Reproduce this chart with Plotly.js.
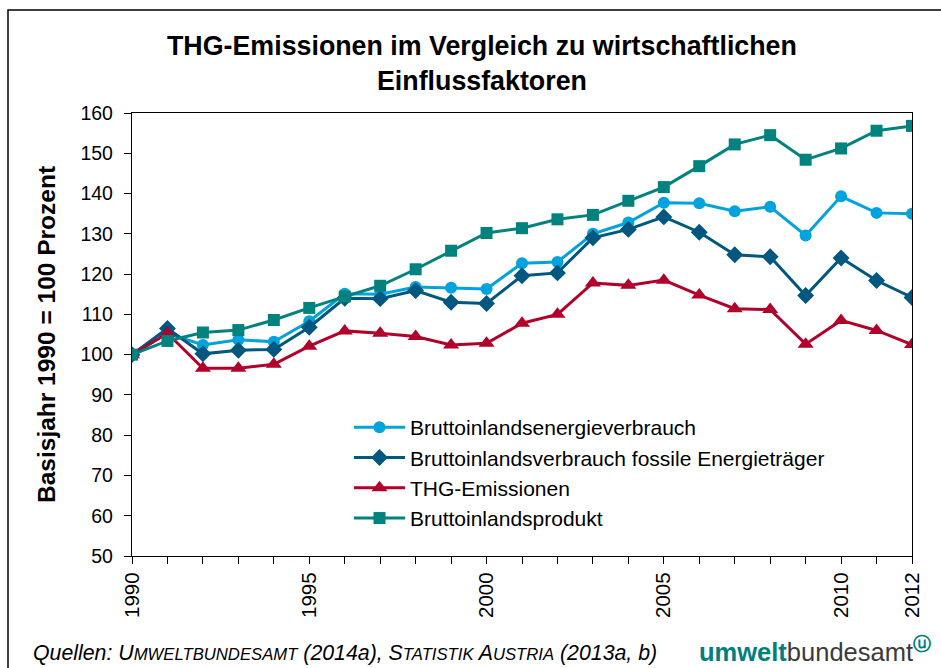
<!DOCTYPE html>
<html><head><meta charset="utf-8">
<script src="https://cdn.plot.ly/plotly-3.0.1.min.js"></script>
<style>html,body{margin:0;padding:0;background:#fff}#chart{width:941px;height:668px}</style>
</head><body><div id="chart"></div>
<script>
const years = [1990,1991,1992,1993,1994,1995,1996,1997,1998,1999,2000,2001,2002,2003,2004,2005,2006,2007,2008,2009,2010,2011,2012];
const energieverbrauch = [100,105.3,102.4,103.7,103.2,108.3,115.1,115.0,116.8,116.6,116.3,122.7,123.0,130.0,132.8,137.7,137.6,135.6,136.7,129.6,139.3,135.2,135.0];
const fossil = [100,106.5,100.2,101.1,101.3,106.8,114.0,113.9,115.9,113.0,112.7,119.6,120.3,129.0,131.1,134.2,130.4,124.8,124.3,114.7,124.0,118.4,114.2];
const thg = [100,105.3,96.6,96.6,97.6,102.1,105.9,105.3,104.5,102.4,102.8,107.8,110.0,117.8,117.2,118.5,114.8,111.4,111.2,102.6,108.5,106.0,102.5];
const bip = [100,103.4,105.5,106.1,108.6,111.6,114.4,117.1,121.2,125.8,130.2,131.4,133.6,134.7,138.2,141.6,146.8,152.2,154.5,148.4,151.2,155.6,156.8];
const seriesNames = ["Bruttoinlandsenergieverbrauch","Bruttoinlandsverbrauch fossile Energieträger","THG-Emissionen","Bruttoinlandsprodukt"];
const xTickYears = [1990,1995,2000,2005,2010,2012];
const xTickLabels = ["1990","1995","2000","2005","2010","2012"];

const F = '"Liberation Sans", Arial, sans-serif';
const L = 132, R = 29, T = 113, B = 112, W = 941, H = 668;
const pw = W - L - R, ph = H - T - B;
const px = v => (v - L) / pw;          // pixel x -> paper x
const py = v => (H - B - v) / ph;      // pixel y -> paper y

function tr(y, name, color, symbol, size){
  return {x: years, y: y, name: name, type:'scatter', mode:'lines+markers',
    line:{color:color, width:3}, marker:{color:color, symbol:symbol, size:size}};
}
const data = [
  tr(energieverbrauch, seriesNames[0], '#00A3DE', 'circle', 12),
  tr(fossil, seriesNames[1], '#00577F', 'diamond', 13),
  tr(thg, seriesNames[2], '#B2002B', 'triangle-up', 14),
  tr(bip, seriesNames[3], '#00837F', 'square', 12)
];
const layout = {
  width:W, height:H, paper_bgcolor:'#fff', plot_bgcolor:'#fff',
  margin:{l:L, r:R, t:T, b:B},
  font:{family:F, color:'#000', size:19},
  xaxis:{range:[1990,2012], tickvals:xTickYears, ticktext:xTickLabels, tickangle:-90, ticks:'outside', ticklen:7, tickcolor:'#000',
    minor:{dtick:1, ticks:'outside', ticklen:7, tickcolor:'#000', showgrid:false},
    showline:true, linecolor:'#000', linewidth:1.3, mirror:true, showgrid:false, zeroline:false, tickfont:{size:20.5}},
  yaxis:{range:[50,160], dtick:10, ticks:'outside', ticklen:7, tickcolor:'#000', showline:true, linecolor:'#000', linewidth:1.3, mirror:true,
    showgrid:false, zeroline:false, tickfont:{size:19.5}, ticklabelstandoff:7},
  legend:{x:px(349), y:py(407), xanchor:'left', yanchor:'top', bgcolor:'rgba(0,0,0,0)', font:{size:21}, tracegroupgap:0, itemwidth:51},
  shapes:[{type:'rect', xref:'paper', yref:'paper', x0:px(8), x1:px(950), y0:py(680), y1:py(10), line:{color:'#000', width:1.5}, layer:'below'}],
  annotations:[
    {xref:'paper', yref:'paper', x:px(482), y:py(29), xanchor:'center', yanchor:'top', showarrow:false,
     text:'<b>THG-Emissionen im Vergleich zu wirtschaftlichen<br>Einflussfaktoren</b>', font:{size:26.8}},
    {xref:'paper', yref:'paper', x:px(46), y:py(335), xanchor:'center', yanchor:'middle', showarrow:false, textangle:-90,
     text:'<b>Basisjahr 1990 = 100 Prozent</b>', font:{size:24.5}},
    {xref:'paper', yref:'paper', x:px(31), y:py(653), xanchor:'left', yanchor:'middle', showarrow:false,
     text:'<i>Quellen: U<span style="font-size:16.7px">MWELTBUNDESAMT</span> (2014a), S<span style="font-size:16.7px">TATISTIK</span> A<span style="font-size:16.7px">USTRIA</span> (2013a, b)</i>', font:{size:21.3}},
    {xref:'paper', yref:'paper', x:px(697), y:py(650), xanchor:'left', yanchor:'middle', showarrow:false,
     text:'<span style="color:#00807C"><b>umwelt</b></span>bundesamt<sup><b style="color:#00807C">ⓤ</b></sup>', font:{size:25.5, color:'#3a3a3a'}}
  ]
};
Plotly.newPlot('chart', data, layout, {displayModeBar:false});
</script></body></html>
